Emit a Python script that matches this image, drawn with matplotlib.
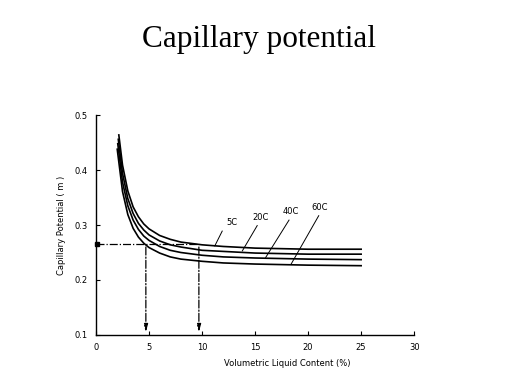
import numpy as np
import matplotlib
matplotlib.use("Agg")
import matplotlib.pyplot as plt

# values
x_5c = [2.15, 2.5, 3, 3.5, 4, 4.5, 5, 6, 7, 8, 10, 12, 15, 20, 25]
psi_5c = [0.464, 0.409, 0.362, 0.333, 0.315, 0.302, 0.293, 0.281, 0.274, 0.269, 0.264, 0.261, 0.258, 0.256, 0.256]
x_20c = [2.1, 2.5, 3, 3.5, 4, 4.5, 5, 6, 7, 8, 10, 12, 15, 20, 25]
psi_20c = [0.456, 0.394, 0.348, 0.321, 0.303, 0.291, 0.282, 0.271, 0.264, 0.260, 0.254, 0.252, 0.249, 0.247, 0.247]
x_40c = [2.05, 2.5, 3, 3.5, 4, 4.5, 5, 6, 7, 8, 10, 12, 15, 20, 25]
psi_40c = [0.448, 0.378, 0.335, 0.309, 0.292, 0.280, 0.272, 0.261, 0.254, 0.250, 0.245, 0.242, 0.240, 0.238, 0.237]
x_60c = [2.0, 2.5, 3, 3.5, 4, 4.5, 5, 6, 7, 8, 10, 12, 15, 20, 25]
psi_60c = [0.438, 0.361, 0.319, 0.294, 0.278, 0.267, 0.259, 0.249, 0.242, 0.238, 0.234, 0.231, 0.229, 0.227, 0.226]

curve_names = ["5C", "20C", "40C", "60C"]
label_pos = [(12.8, 0.296), (15.5, 0.306), (18.4, 0.316), (21.1, 0.324)]
leader_start = [(11.9, 0.289), (15.2, 0.299), (18.2, 0.309), (21.0, 0.317)]
leader_end = [(11.2, 0.262), (13.8, 0.253), (16.0, 0.241), (18.4, 0.229)]

ref_psi = 0.265          # reading level
ref_x = [4.7, 9.7]       # content at 60C and 5C

xticks = [0, 5, 10, 15, 20, 25, 30]
yticks = [0.1, 0.2, 0.3, 0.4, 0.5]

fig = plt.figure(figsize=(5.19, 3.89), dpi=100)
ax = fig.add_axes([0.185, 0.139, 0.613, 0.565])

for xs, psi in [(x_5c, psi_5c), (x_20c, psi_20c), (x_40c, psi_40c), (x_60c, psi_60c)]:
    ax.plot(xs, psi, color="black", lw=1.2)

# dash-dot reading lines
ax.plot([0, ref_x[1]], [ref_psi, ref_psi], color="black", lw=0.9, ls="-.")
ax.plot([0.05], [ref_psi], marker="s", ms=3, color="black", clip_on=False)
for xv in ref_x:
    ax.annotate("", xy=(xv, 0.1), xytext=(xv, ref_psi),
                arrowprops=dict(arrowstyle="-|>,head_width=0.12,head_length=0.45",
                                color="black", lw=0.9, ls="-."))

for name, lp, s, e in zip(curve_names, label_pos, leader_start, leader_end):
    ax.text(lp[0], lp[1], name, fontsize=6, ha="center", va="bottom")
    ax.plot([s[0], e[0]], [s[1], e[1]], color="black", lw=0.7)

ax.set_xlim(0, 30)
ax.set_ylim(0.1, 0.5)
ax.set_xticks(xticks)
ax.set_yticks(yticks)
ax.set_xticklabels([str(t) for t in xticks], fontsize=6)
ax.set_yticklabels(["0.1", "0.2", "0.3", "0.4", "0.5"], fontsize=6)
ax.tick_params(direction="in", length=3, width=0.8, pad=6)
for s in ["top", "right"]:
    ax.spines[s].set_visible(False)
ax.spines["left"].set_linewidth(1.0)
ax.spines["bottom"].set_linewidth(1.0)

ax.set_xlabel("Volumetric Liquid Content (%)", fontsize=6, labelpad=8)
ax.xaxis.set_label_coords(0.6, -0.11)
ax.set_ylabel("Capillary Potential ( m )", fontsize=6, labelpad=6)

fig.text(0.5, 0.861, "Capillary potential", ha="center", va="bottom",
         fontsize=22.5, family="Liberation Serif")

fig.savefig("out.png", dpi=100)
